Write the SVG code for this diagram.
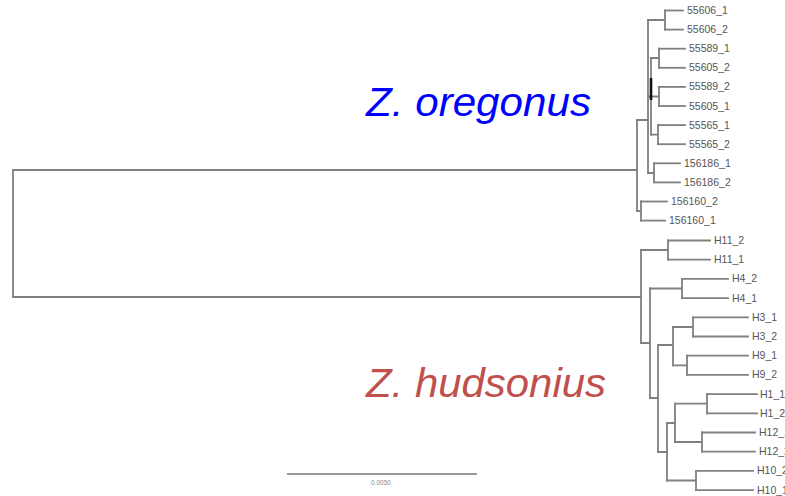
<svg xmlns="http://www.w3.org/2000/svg" width="785" height="496" viewBox="0 0 785 496">
<style>
.br{fill:none;stroke:#808080;stroke-width:1.8;stroke-linecap:square}
.lf{fill:#555;font-family:"Liberation Sans",Arial,sans-serif;font-size:10.5px}
.sp{font-family:"Liberation Sans",Arial,sans-serif;font-style:italic;font-size:40px}
</style>
<rect width="785" height="496" fill="#fff"/>
<g id="connectors">
<path class="br" d="M637,170 H13 V297 H641"/>
<path class="br" d="M637,120 V211"/>
<path class="br" d="M637,120 H648 V173"/>
<path class="br" d="M648,20 V120"/>
<path class="br" d="M648,20 H665 M665,10.5 V29.6"/>
<path class="br" d="M651,58 V134.7 M648,96.5 H651"/>
<path class="br" d="M651,58 H659 M659,48.7 V67.8"/>
<path class="br" d="M651,96.5 H659 M659,86.9 V106"/>
<path class="br" d="M651,134.7 H658 M658,125.1 V144.2"/>
<path class="br" d="M648,173 H654 M654,163.3 V182.4"/>
<path d="M651,78 V100" stroke="#111" stroke-width="2.6" fill="none"/>
<path class="br" d="M637,211 H641 M641,201.5 V220.6"/>
<path class="br" d="M641,250 V343"/>
<path class="br" d="M641,250 H668 M668,240.5 V259.7"/>
<path class="br" d="M641,343 H650 M650,288.5 V398"/>
<path class="br" d="M650,288.5 H682 M682,278.9 V298.1"/>
<path class="br" d="M650,398 H658 M658,345 V452"/>
<path class="br" d="M658,345 H673 M673,327 V365.3"/>
<path class="br" d="M673,327 H693 M693,317.3 V336.5"/>
<path class="br" d="M673,365.3 H687 M687,355.7 V374.9"/>
<path class="br" d="M658,452 H667 M667,423 V480.5"/>
<path class="br" d="M667,423 H675 M675,403.7 V442"/>
<path class="br" d="M675,403.7 H707 M707,394.1 V413.3"/>
<path class="br" d="M675,442 H702 M702,432.5 V451.7"/>
<path class="br" d="M667,480.5 H696 M696,470.9 V490.1"/>
</g>
<g id="n55606_1"><path class="br" d="M665,10.5 H683"/><text class="lf" x="687" y="14">55606_1</text></g>
<g id="n55606_2"><path class="br" d="M665,29.6 H683"/><text class="lf" x="687" y="33.1">55606_2</text></g>
<g id="n55589_1"><path class="br" d="M659,48.7 H685"/><text class="lf" x="689" y="52.2">55589_1</text></g>
<g id="n55605_2"><path class="br" d="M659,67.8 H685"/><text class="lf" x="689" y="71.3">55605_2</text></g>
<g id="n55589_2"><path class="br" d="M659,86.9 H685"/><text class="lf" x="689" y="90.4">55589_2</text></g>
<g id="n55605_1"><path class="br" d="M659,106 H685"/><text class="lf" x="689" y="109.5">55605_1</text></g>
<g id="n55565_1"><path class="br" d="M658,125.1 H685"/><text class="lf" x="689" y="128.6">55565_1</text></g>
<g id="n55565_2"><path class="br" d="M658,144.2 H685"/><text class="lf" x="689" y="147.7">55565_2</text></g>
<g id="n156186_1"><path class="br" d="M654,163.3 H680"/><text class="lf" x="684" y="166.8">156186_1</text></g>
<g id="n156186_2"><path class="br" d="M654,182.4 H680"/><text class="lf" x="684" y="185.9">156186_2</text></g>
<g id="n156160_2"><path class="br" d="M641,201.5 H667"/><text class="lf" x="671" y="205">156160_2</text></g>
<g id="n156160_1"><path class="br" d="M641,220.6 H665"/><text class="lf" x="669" y="224.1">156160_1</text></g>
<g id="nH11_2"><path class="br" d="M668,240.5 H710"/><text class="lf" x="714" y="244">H11_2</text></g>
<g id="nH11_1"><path class="br" d="M668,259.7 H710"/><text class="lf" x="714" y="263.2">H11_1</text></g>
<g id="nH4_2"><path class="br" d="M682,278.9 H728"/><text class="lf" x="732" y="282.4">H4_2</text></g>
<g id="nH4_1"><path class="br" d="M682,298.1 H728"/><text class="lf" x="732" y="301.6">H4_1</text></g>
<g id="nH3_1"><path class="br" d="M693,317.3 H748"/><text class="lf" x="752" y="320.8">H3_1</text></g>
<g id="nH3_2"><path class="br" d="M693,336.5 H748"/><text class="lf" x="752" y="340">H3_2</text></g>
<g id="nH9_1"><path class="br" d="M687,355.7 H748"/><text class="lf" x="752" y="359.2">H9_1</text></g>
<g id="nH9_2"><path class="br" d="M687,374.9 H748"/><text class="lf" x="752" y="378.4">H9_2</text></g>
<g id="nH1_1"><path class="br" d="M707,394.1 H757"/><text class="lf" x="760" y="397.6">H1_1</text></g>
<g id="nH1_2"><path class="br" d="M707,413.3 H757"/><text class="lf" x="760" y="416.8">H1_2</text></g>
<g id="nH12_1"><path class="br" d="M702,432.5 H755"/><text class="lf" x="759" y="436">H12_1</text></g>
<g id="nH12_2"><path class="br" d="M702,451.7 H755"/><text class="lf" x="759" y="455.2">H12_2</text></g>
<g id="nH10_2"><path class="br" d="M696,470.9 H753"/><text class="lf" x="757" y="474.4">H10_2</text></g>
<g id="nH10_1"><path class="br" d="M696,490.1 H753"/><text class="lf" x="757" y="493.6">H10_1</text></g>
<g id="label_oregonus"><text class="sp" x="366" y="116" fill="#0000ff" textLength="225" lengthAdjust="spacingAndGlyphs">Z. oregonus</text></g>
<g id="label_hudsonius"><text class="sp" x="366" y="397" fill="#c0504d" textLength="240" lengthAdjust="spacingAndGlyphs">Z. hudsonius</text></g>
<g id="scalebar">
<path d="M287,474 H477" stroke="#999" stroke-width="1.8" fill="none"/>
<text x="381" y="484.5" text-anchor="middle" fill="#888" font-family="Liberation Sans,Arial,sans-serif" font-size="6.5">0.0050</text>
</g>
</svg>
